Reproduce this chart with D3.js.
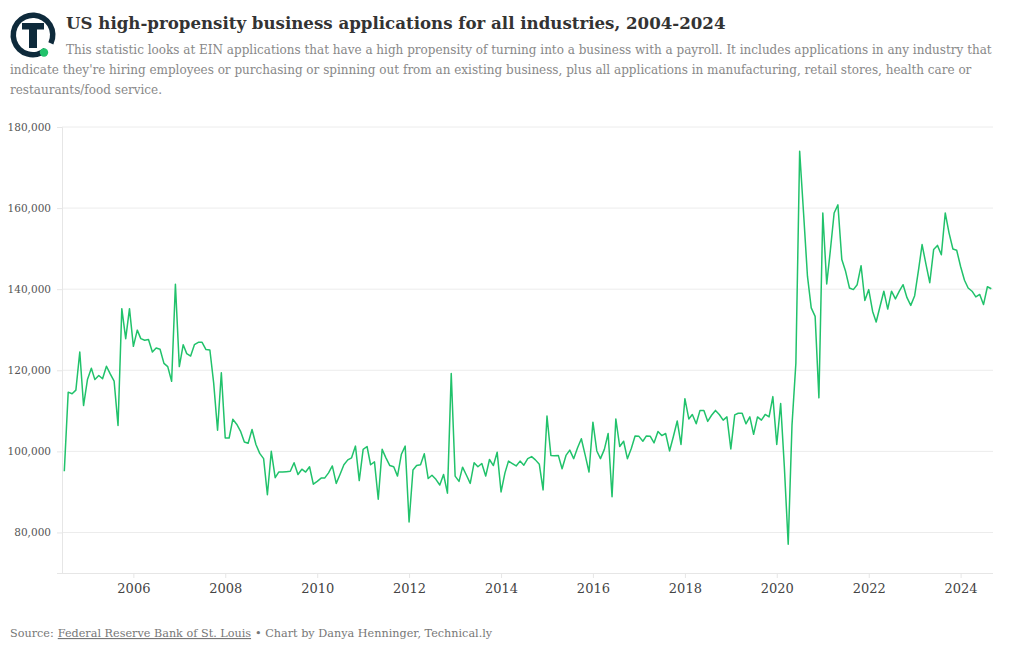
<!DOCTYPE html>
<html><head><meta charset="utf-8">
<script src="https://cdn.jsdelivr.net/npm/d3@7"></script>
<style>
body{margin:0;background:#fff;}
svg{display:block;}
</style></head>
<body>
<svg id="chart" width="1020" height="650"></svg>
<script>
// ---- data ----
const titleText = "US high-propensity business applications for all industries, 2004-2024";
const subtitleLines = [
  "This statistic looks at EIN applications that have a high propensity of turning into a business with a payroll. It includes applications in any industry that",
  "indicate they're hiring employees or purchasing or spinning out from an existing business, plus all applications in manufacturing, retail stores, health care or",
  "restaurants/food service."
];
const firstMonth = "2004-07";
// monthly values, July 2004 - September 2024
const applications = [
  95100,114600,114200,115100,124500,111300,117700,120500,117700,118700,117900,121000,
  119100,117300,106400,135200,127800,135200,125900,129900,127800,127400,127600,124500,
  125500,125200,121700,120900,117300,141200,120900,126300,124100,123500,126300,126900,
  126900,125100,125000,116900,105200,119400,103300,103300,107900,106700,105000,102300,
  102000,105400,101700,99500,98200,89300,100000,93500,94900,94900,95000,95100,
  97200,94300,95600,94900,96200,91900,92600,93400,93400,94700,96400,92100,
  94300,96700,97900,98400,101300,92800,100500,101200,96700,97400,88200,100500,
  98400,96500,96200,93900,99300,101300,82600,95400,96500,96700,99400,93300,
  94100,93100,91700,94300,89700,119200,93900,92600,96100,94100,92100,97200,
  96200,97000,93900,98000,96500,99800,90000,94700,97600,97000,96400,97600,
  96600,98200,98700,97900,96800,90500,108700,99000,98900,99000,95700,99000,
  100300,98200,100900,103100,99000,94900,107200,100100,98200,100500,104400,88800,
  108000,101200,102500,98200,100700,103800,103700,102500,103800,103700,102100,104900,
  103900,104400,100100,103600,107500,101700,113000,108000,109100,106800,110100,110100,
  107400,108900,110100,109100,107700,108500,100600,109000,109400,109400,106800,108500,
  104200,108500,107700,109100,108500,113500,101700,111800,96400,77100,106400,121800,
  174000,158800,143200,135400,133300,113200,158800,141300,149300,158800,160800,147300,
  144400,140300,139900,141100,145800,137200,139900,134500,131900,135800,139500,135100,
  139500,137600,139500,141100,137900,136000,138400,144800,151000,146100,141600,149800,
  150800,148500,158800,153900,149900,149600,145600,142200,140300,139500,138100,138700,
  136200,140600,140100
];
const yTicks = [80000,100000,120000,140000,160000,180000];
const xTickYears = [2006,2008,2010,2012,2014,2016,2018,2020,2022,2024];
const sourceLabel = "Source:";
const sourceName = "Federal Reserve Bank of St. Louis";
const creditText = "• Chart by Danya Henninger, Technical.ly";

// ---- build ----
const parse = d3.timeParse("%Y-%m");
const start = parse(firstMonth);
const series = applications.map((v,i)=>({date:d3.timeMonth.offset(start,i), value:v}));

const svg = d3.select("#chart");
const serif = "'DejaVu Serif', 'Liberation Serif', serif";
const plot = {left:62, right:993, top:127, bottom:573};

const x = d3.scaleTime()
  .domain([start, series[series.length-1].date])
  .range([64.3, 991.3]);
const y = d3.scaleLinear().domain([70000,180000]).range([plot.bottom, plot.top]);

// helper: fit a text to a target width by font size
function fitText(sel, target, base){
  sel.attr("font-size", base);
  const w = sel.node().getComputedTextLength();
  sel.attr("font-size", base*target/w);
  return sel;
}

// Logo
const logo = svg.append("g");
const cx=33, cy=35, r=20;
const arc = d3.arc().innerRadius(r-3).outerRadius(r+2.5)
  .startAngle(Math.PI*0.78).endAngle(Math.PI*2.64);
logo.append("path").attr("d",arc()).attr("transform",`translate(${cx},${cy})`).attr("fill","#0e2a3b");
logo.append("rect").attr("x",cx-11).attr("y",cy-12).attr("width",22).attr("height",6.5).attr("fill","#0e2a3b");
logo.append("rect").attr("x",cx-4).attr("y",cy-12).attr("width",8).attr("height",25).attr("fill","#0e2a3b");
logo.append("circle").attr("cx",44).attr("cy",52.5).attr("r",4.2).attr("fill","#21c26b");

// Title
fitText(svg.append("text").attr("x",66).attr("y",29)
  .attr("font-family",serif).attr("font-weight","bold")
  .attr("fill","#333").text(titleText), 660, 19);

// Subtitle
const sub = subtitleLines.map((t,i)=>{
  return svg.append("text").attr("x",i===0?66:10).attr("y",54+i*20)
    .attr("font-family",serif).attr("fill","#888").text(t);
});
fitText(sub[0], 926, 13);
fitText(sub[1], 962, 13);
sub[2].attr("font-size", sub[1].attr("font-size"));

// Gridlines
svg.append("g").selectAll("line").data(yTicks).join("line")
  .attr("x1",plot.left).attr("x2",plot.right)
  .attr("y1",d=>y(d)).attr("y2",d=>y(d))
  .attr("stroke","#ececec").attr("stroke-width",1);

// Y axis
const yAxis = svg.append("g").attr("transform",`translate(${plot.left},0)`)
  .call(d3.axisLeft(y).tickValues(yTicks).tickSize(5).tickPadding(6).tickFormat(d3.format(",")));
yAxis.select(".domain").attr("stroke","#e6e6e6");
yAxis.selectAll(".tick line").attr("stroke","#e6e6e6");
yAxis.selectAll("text").attr("font-family",serif).attr("font-size",10.5).attr("fill","#555");

// X axis
const xAxis = svg.append("g").attr("transform",`translate(0,${plot.bottom})`)
  .call(d3.axisBottom(x).tickValues(xTickYears.map(yr=>new Date(yr,0,1)))
    .tickSize(5).tickPadding(6).tickFormat(d3.timeFormat("%Y")));
xAxis.select(".domain").attr("d",`M${plot.left},0.5H${plot.right}`).attr("stroke","#e6e6e6");
xAxis.selectAll(".tick line").attr("stroke","#e6e6e6");
xAxis.selectAll("text").attr("font-family",serif).attr("font-size",13).attr("fill","#444");

// Line
svg.append("path").datum(series)
  .attr("d",d3.line().x(d=>x(d.date)).y(d=>y(d.value)))
  .attr("fill","none").attr("stroke","#21c26b").attr("stroke-width",1.5)
  .attr("stroke-linejoin","round");

// Footer (three pieces placed one after another, fitted to the reference width)
const pieces = [sourceLabel, sourceName, creditText].map((t,i)=>{
  const el = svg.append("text").attr("y",637)
    .attr("font-family",serif).attr("font-size",12).attr("fill","#777").text(t);
  if(i===1) el.attr("text-decoration","underline");
  return el;
});
const gap = 4;
const total = d3.sum(pieces, p=>p.node().getComputedTextLength()) + 2*gap;
const fsize = 12 * (483 - 2*gap) / (total - 2*gap);
let fx = 10;
pieces.forEach(p=>{
  p.attr("font-size",fsize).attr("x",fx);
  fx += p.node().getComputedTextLength() + gap;
});
</script>
</body></html>
